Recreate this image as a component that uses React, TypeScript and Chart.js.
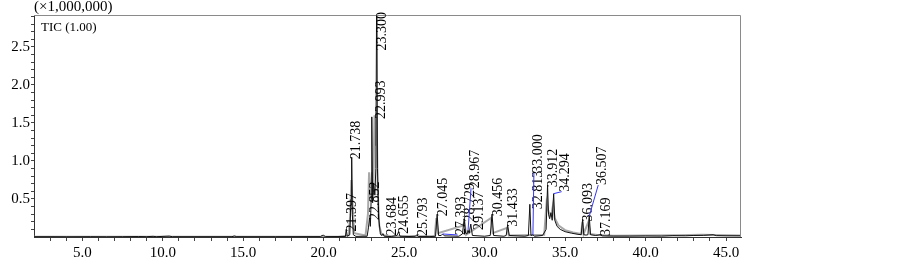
import { useEffect, useRef } from 'react';
import { Chart, registerables } from 'chart.js';

Chart.register(...registerables);

// Retention time (min) and TIC intensity (x1,000,000) — black trace
const rtBlack = [
  2.0, 3.0, 4.0, 5.5, 6.5, 7.5, 8.5, 9.0, 9.4, 9.6, 10.4, 10.6, 12.0, 14.3, 14.45, 14.6, 17.0,
  19.8, 19.9, 20.0, 20.1, 21.2, 21.35, 21.4, 21.46, 21.62, 21.7, 21.74, 21.78, 21.84, 22.0,
  22.7, 22.78, 22.85, 22.9, 22.95, 22.99, 23.04, 23.1, 23.18, 23.24, 23.3, 23.34, 23.42, 23.52,
  23.6, 23.68, 23.76, 24.2, 24.55, 24.66, 24.74, 25.3, 25.7, 25.79, 25.88, 26.6, 26.95, 27.05,
  27.14, 27.3, 27.39, 27.5, 28.4, 28.62, 28.73, 28.82, 28.9, 28.97, 29.04, 29.14, 29.24, 30.0,
  30.35, 30.46, 30.56, 31.2, 31.34, 31.43, 31.53, 32.5, 32.72, 32.81, 32.88, 33.0, 33.1, 33.6,
  33.82, 33.91, 33.97, 34.04, 34.12, 34.2, 34.29, 34.36, 34.5, 34.7, 35.0, 35.4, 35.8, 36.0,
  36.09, 36.16, 36.3, 36.42, 36.5, 36.58, 36.9, 37.17, 37.3, 38.0, 39.0, 40.0, 41.0, 41.7, 42.5,
  43.0, 43.6, 44.2, 44.4, 45.0, 45.93,
];
const ticBlack = [
  0.004, 0.004, 0.003, 0.004, 0.003, 0.004, 0.006, 0.004, 0.009, 0.004, 0.012, 0.004, 0.004, 0.004, 0.014, 0.004, 0.004,
  0.005, 0.02, 0.022, 0.005, 0.006, 0.005, 0.1, 0.01, 0.03, 0.5, 1.05, 0.3, 0.03, 0.008,
  0.01, 0.12, 0.25, 0.14, 0.5, 1.58, 0.45, 0.7, 0.55, 0.9, 3.6, 0.9, 0.25, 0.04,
  0.02, 0.045, 0.01, 0.006, 0.02, 0.07, 0.01, 0.006, 0.01, 0.03, 0.006, 0.005, 0.01, 0.3,
  0.02, 0.02, 0.04, 0.015, 0.01, 0.04, 0.23, 0.05, 0.04, 0.09, 0.05, 0.17, 0.02, 0.01,
  0.02, 0.3, 0.02, 0.01, 0.02, 0.16, 0.02, 0.01, 0.02, 0.43, 0.02, 0.03, 0.01, 0.02,
  0.1, 0.68, 0.3, 0.24, 0.32, 0.22, 0.57, 0.22, 0.14, 0.1, 0.07, 0.05, 0.035, 0.03,
  0.23, 0.03, 0.025, 0.03, 0.275, 0.03, 0.02, 0.03, 0.015, 0.012, 0.012, 0.014, 0.012, 0.018, 0.016,
  0.02, 0.022, 0.03, 0.018, 0.016, 0.016,
];

// Gray overlay trace
const rtGray = [
  2.0, 20.9, 21.55, 21.65, 21.72, 21.8, 21.9, 22.6, 22.75, 22.82, 22.88, 22.93, 23.0, 23.08,
  23.16, 23.22, 23.28, 23.36, 23.45, 23.6, 24.0, 26.9, 27.0, 27.1, 28.65, 28.75, 28.85, 30.4,
  30.5, 31.4, 31.5, 33.7, 33.85, 33.95, 34.05, 34.15, 34.25, 34.35, 34.6, 35.0, 35.5, 36.0,
  36.08, 36.15, 36.45, 36.55, 37.0, 38.0, 40.0, 42.0, 43.5, 44.2, 45.93,
];
const ticGray = [
  0.002, 0.003, 0.02, 0.3, 0.75, 0.4, 0.05, 0.02, 0.3, 0.85, 0.6, 0.5, 0.85, 0.6,
  1.6, 1.2, 1.7, 0.6, 0.15, 0.03, 0.01, 0.01, 0.25, 0.05, 0.15, 0.2, 0.03, 0.25,
  0.05, 0.12, 0.02, 0.03, 0.45, 0.35, 0.28, 0.3, 0.42, 0.25, 0.15, 0.09, 0.06, 0.04,
  0.2, 0.04, 0.2, 0.04, 0.025, 0.018, 0.02, 0.022, 0.028, 0.025, 0.02,
];

const peakLabels = [
  '21.397', '21.738', '22.852', '22.993', '23.300', '23.684', '24.655', '25.793', '27.045',
  '27.393', '28.729', '28.967', '29.137', '30.456', '31.433', '32.813', '33.000', '33.912',
  '34.294', '36.093', '36.507', '37.169',
];

const xMajorTicks = [5, 10, 15, 20, 25, 30, 35, 40, 45];
const yMajorTicks = [0.5, 1.0, 1.5, 2.0, 2.5];
const yUnitLabel = '(×1,000,000)';
const traceLabel = 'TIC (1.00)';

// layout nudges for label placement (pixels): [dx, dy, connector]
const labelNudge: Record<string, [number, number, boolean]> = {
  '21.738': [-1, 0, false],
  '22.993': [4, 0, false],
  '23.684': [3, 0, false],
  '24.655': [0, 0, false],
  '27.393': [13, -1, true],
  '28.967': [1, -44, true],
  '29.137': [3, 4, false],
  '32.813': [2, 3, false],
  '33.000': [-1, -64, true],
  '34.294': [6, -4, true],
  '36.507': [7, -33, true],
};

const SERIF = "'Liberation Serif', 'Times New Roman', serif";

export default function App() {
  const ref = useRef<HTMLCanvasElement | null>(null);

  useEffect(() => {
    if (!ref.current) return;
    const black = rtBlack.map((x, i) => ({ x, y: ticBlack[i] }));
    const gray = rtGray.map((x, i) => ({ x, y: ticGray[i] }));

    const overlay = {
      id: 'overlay',
      afterDatasetsDraw(chart: any) {
        const { ctx, chartArea, scales } = chart;
        const xs = scales.x;
        const ys = scales.y;
        ctx.save();
        // frame top/right
        ctx.strokeStyle = '#8a8a8a';
        ctx.lineWidth = 1;
        ctx.beginPath();
        ctx.moveTo(chartArea.left, chartArea.top + 0.5);
        ctx.lineTo(chartArea.right - 0.5, chartArea.top + 0.5);
        ctx.lineTo(chartArea.right - 0.5, chartArea.bottom);
        ctx.stroke();

        // peak labels
        ctx.font = `14px ${SERIF}`;
        ctx.fillStyle = '#000';
        for (const lab of peakLabels) {
          const t = parseFloat(lab);
          let best = -1;
          for (let i = 0; i < rtBlack.length; i++) {
            if (Math.abs(rtBlack[i] - t) <= 0.06 && (best < 0 || ticBlack[i] > ticBlack[best])) best = i;
          }
          if (best < 0) continue;
          const ax = xs.getPixelForValue(rtBlack[best]);
          const ay = Math.max(ys.getPixelForValue(ticBlack[best]), chartArea.top);
          const nd = labelNudge[lab] || [0, 0, false];
          const cx = ax + 6 + nd[0];
          const w = ctx.measureText(lab).width;
          let bottom = ay + 2 + nd[1];
          if (bottom > chartArea.bottom - 1) bottom = chartArea.bottom - 1;
          if (bottom - w < chartArea.top - 3) bottom = chartArea.top - 3 + w;
          if (nd[2]) {
            ctx.strokeStyle = '#3535f5';
            ctx.lineWidth = 1;
            ctx.beginPath();
            ctx.moveTo(ax, ay);
            ctx.lineTo(cx - 4, bottom);
            ctx.stroke();
          }
          ctx.save();
          ctx.translate(cx, bottom);
          ctx.rotate(-Math.PI / 2);
          ctx.textAlign = 'left';
          ctx.textBaseline = 'middle';
          ctx.fillText(lab, 0, 0);
          ctx.restore();
        }

        // header texts
        ctx.textAlign = 'left';
        ctx.textBaseline = 'middle';
        ctx.font = `15px ${SERIF}`;
        ctx.fillText(yUnitLabel, chartArea.left, 7);
        ctx.font = `13px ${SERIF}`;
        ctx.fillText(traceLabel, chartArea.left + 7, 28);
        ctx.restore();
      },
    };

    const chart = new Chart(ref.current, {
      type: 'line',
      data: {
        datasets: [
          {
            data: black,
            borderColor: '#111',
            borderWidth: 1,
            pointRadius: 0,
            tension: 0,
            order: 1,
          },
          {
            data: gray,
            borderColor: '#a8a8a8',
            borderWidth: 2,
            pointRadius: 0,
            tension: 0,
            order: 2,
          },
        ],
      },
      options: {
        animation: false,
        responsive: false,
        devicePixelRatio: 1,
        parsing: true,
        layout: { padding: { top: 15, right: 162, left: 0, bottom: 0 } },
        plugins: { legend: { display: false }, tooltip: { enabled: false } },
        scales: {
          x: {
            type: 'linear',
            min: 2.0,
            max: 45.93,
            afterBuildTicks(scale: any) {
              const t = [];
              for (let v = 3; v <= 45; v++) t.push({ value: v });
              scale.ticks = t;
            },
            afterFit(scale: any) {
              scale.height = 23;
            },
            ticks: {
              autoSkip: false,
              maxRotation: 0,
              padding: 3,
              color: '#000',
              font: { family: SERIF, size: 15 },
              callback: (v: any) => (xMajorTicks.includes(Number(v)) ? Number(v).toFixed(1) : ''),
            },
            grid: { drawOnChartArea: false, drawTicks: true, tickLength: 4, tickColor: '#444' },
            border: { display: true, color: '#333', width: 1 },
          },
          y: {
            type: 'linear',
            min: 0,
            max: 2.92,
            afterBuildTicks(scale: any) {
              const t = [];
              for (let i = 1; i <= 29; i++) t.push({ value: i / 10 });
              scale.ticks = t;
            },
            afterFit(scale: any) {
              scale.width = 34;
            },
            ticks: {
              autoSkip: false,
              padding: 1,
              color: '#000',
              font: { family: SERIF, size: 15 },
              callback: (v: any) => {
                const n = Number(v);
                return yMajorTicks.some((m) => Math.abs(m - n) < 1e-6) ? n.toFixed(1) : '';
              },
            },
            grid: { drawOnChartArea: false, drawTicks: true, tickLength: 3, tickColor: '#444' },
            border: { display: true, color: '#333', width: 1 },
          },
        },
      } as any,
      plugins: [overlay],
    });
    return () => chart.destroy();
  }, []);

  return (
    <div style={{ position: 'absolute', left: 0, top: 0, width: 903, height: 260, background: '#fff' }}>
      <canvas ref={ref} width={903} height={260} style={{ display: 'block' }} />
    </div>
  );
}
